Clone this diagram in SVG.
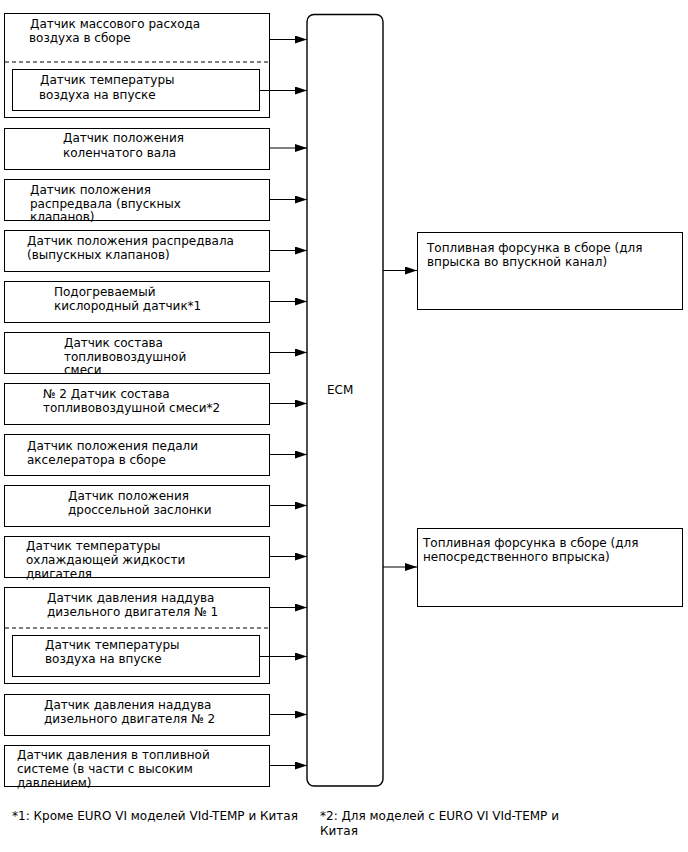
<svg xmlns="http://www.w3.org/2000/svg" width="688" height="852" viewBox="0 0 688 852">
<style>
text{font-family:"DejaVu Sans","Liberation Sans",sans-serif;font-size:12px;fill:#000}
.b{fill:none;stroke:#000;stroke-width:1}
.d{stroke:#000;stroke-width:1;stroke-dasharray:4,3;fill:none}
.c{stroke:#000;stroke-width:1.2;fill:none;marker-end:url(#ah)}
.fn{font-size:12px}
</style>
<defs>
<marker id="ah" markerWidth="12" markerHeight="8" refX="12" refY="4" orient="auto" markerUnits="userSpaceOnUse">
<path d="M0,0 L12,4 L0,8 Z" fill="#000"/>
</marker>
</defs>
<rect width="688" height="852" fill="#fff"/>

<g id="n1">
<text x="30" y="28">Датчик массового расхода</text>
<text x="29" y="42">воздуха в сборе</text>
<rect class="b" x="4.5" y="13.5" width="265" height="104"/>
<line class="d" x1="5" y1="62" x2="269" y2="62"/>
</g>
<g id="n1b">
<text x="40" y="84">Датчик температуры</text>
<text x="39" y="99">воздуха на впуске</text>
<rect class="b" x="12.5" y="69.5" width="247" height="41"/>
</g>
<g id="n2">
<text x="63" y="142">Датчик положения</text>
<text x="63" y="157">коленчатого вала</text>
<rect class="b" x="4.5" y="128.5" width="265" height="41"/>
</g>
<g id="n3">
<text x="30" y="194">Датчик положения</text>
<text x="30" y="208">распредвала (впускных</text>
<text x="30" y="221">клапанов)</text>
<rect class="b" x="4.5" y="179.5" width="265" height="41"/>
</g>
<g id="n4">
<text x="27" y="245">Датчик положения распредвала</text>
<text x="27" y="259">(выпускных клапанов)</text>
<rect class="b" x="4.5" y="230.5" width="265" height="41"/>
</g>
<g id="n5">
<text x="54" y="296">Подогреваемый</text>
<text x="54" y="310">кислородный датчик*1</text>
<rect class="b" x="4.5" y="281.5" width="265" height="41"/>
</g>
<g id="n6">
<text x="64" y="347">Датчик состава</text>
<text x="64" y="361">топливовоздушной</text>
<text x="64" y="374">смеси</text>
<rect class="b" x="4.5" y="332.5" width="265" height="41"/>
</g>
<g id="n7">
<text x="43" y="398">№ 2 Датчик состава</text>
<text x="43" y="412">топливовоздушной смеси*2</text>
<rect class="b" x="4.5" y="383.5" width="265" height="41"/>
</g>
<g id="n8">
<text x="27" y="450">Датчик положения педали</text>
<text x="27" y="464">акселератора в сборе</text>
<rect class="b" x="4.5" y="434.5" width="265" height="41"/>
</g>
<g id="n9">
<text x="68" y="500">Датчик положения</text>
<text x="68" y="514">дроссельной заслонки</text>
<rect class="b" x="4.5" y="485.5" width="265" height="41"/>
</g>
<g id="n10">
<text x="26" y="550">Датчик температуры</text>
<text x="26" y="564">охлаждающей жидкости</text>
<text x="26" y="578">двигателя</text>
<rect class="b" x="4.5" y="536.5" width="265" height="41"/>
</g>
<g id="n11">
<text x="47" y="602">Датчик давления наддува</text>
<text x="47" y="616">дизельного двигателя № 1</text>
<rect class="b" x="4.5" y="587.5" width="265" height="96"/>
<line class="d" x1="5" y1="628" x2="269" y2="628"/>
</g>
<g id="n11b">
<text x="45" y="649">Датчик температуры</text>
<text x="45" y="663">воздуха на впуске</text>
<rect class="b" x="12.5" y="635.5" width="247" height="41"/>
</g>
<g id="n12">
<text x="44" y="709">Датчик давления наддува</text>
<text x="44" y="723">дизельного двигателя № 2</text>
<rect class="b" x="4.5" y="694.5" width="265" height="41"/>
</g>
<g id="n13">
<text x="17" y="759">Датчик давления в топливной</text>
<text x="17" y="773">системе (в части с высоким</text>
<text x="17" y="787">давлением)</text>
<rect class="b" x="4.5" y="745.5" width="265" height="41"/>
</g>

<g id="ecm">
<rect x="307" y="14.5" width="76" height="771.5" rx="7" fill="none" stroke="#000" stroke-width="1.4"/>
<text x="327" y="394">ECM</text>
</g>

<g id="out1">
<rect class="b" x="417.5" y="232.5" width="265" height="77"/>
<text x="427" y="252">Топливная форсунка в сборе (для</text>
<text x="427" y="266">впрыска во впускной канал)</text>
</g>
<g id="out2">
<rect class="b" x="417.5" y="528.5" width="265" height="78"/>
<text x="423" y="547">Топливная форсунка в сборе (для</text>
<text x="423" y="561">непосредственного впрыска)</text>
</g>

<g id="connectors">
<line class="c" x1="270" y1="39.5" x2="307" y2="39.5"/>
<line class="c" x1="260" y1="90.5" x2="307" y2="90.5"/>
<line class="c" x1="270" y1="148" x2="307" y2="148"/>
<line class="c" x1="270" y1="199.5" x2="307" y2="199.5"/>
<line class="c" x1="270" y1="250.5" x2="307" y2="250.5"/>
<line class="c" x1="270" y1="301.5" x2="307" y2="301.5"/>
<line class="c" x1="270" y1="352.5" x2="307" y2="352.5"/>
<line class="c" x1="270" y1="403.5" x2="307" y2="403.5"/>
<line class="c" x1="270" y1="454.5" x2="307" y2="454.5"/>
<line class="c" x1="270" y1="505.5" x2="307" y2="505.5"/>
<line class="c" x1="270" y1="556.5" x2="307" y2="556.5"/>
<line class="c" x1="270" y1="607.5" x2="307" y2="607.5"/>
<line class="c" x1="260" y1="656.5" x2="307" y2="656.5"/>
<line class="c" x1="270" y1="714.5" x2="307" y2="714.5"/>
<line class="c" x1="270" y1="765.5" x2="307" y2="765.5"/>
<line class="c" x1="383" y1="270.5" x2="417" y2="270.5"/>
<line class="c" x1="383" y1="567" x2="417" y2="567"/>
</g>

<g id="footnotes">
<text class="fn" x="12" y="820">*1: Кроме EURO VI моделей VId-TEMP и Китая</text>
<text class="fn" x="320" y="820">*2: Для моделей с EURO VI VId-TEMP и</text>
<text class="fn" x="320" y="835">Китая</text>
</g>
</svg>
